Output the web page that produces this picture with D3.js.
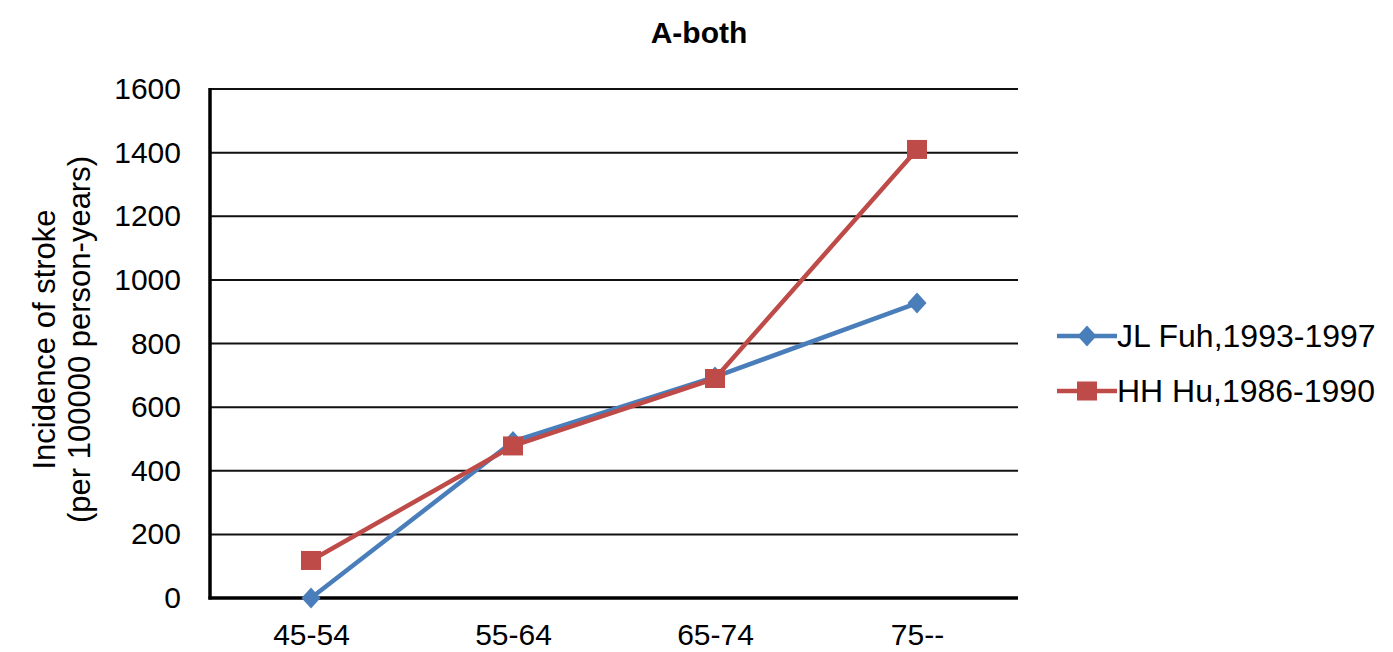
<!DOCTYPE html>
<html>
<head>
<meta charset="utf-8">
<script src="https://cdn.jsdelivr.net/npm/d3@7"></script>
<style>
  html, body { margin: 0; padding: 0; background: #fff; }
  svg { display: block; font-family: "Liberation Sans", Arial, sans-serif; }
</style>
</head>
<body>
<svg id="chart" width="1393" height="652"></svg>
<script>
const categories = ["45-54", "55-64", "65-74", "75--"];
const fuhValues = [0, 492, 695, 927];
const huValues = [118, 478, 690, 1410];
const yTicks = [0, 200, 400, 600, 800, 1000, 1200, 1400, 1600];
const seriesNames = ["JL Fuh,1993-1997", "HH Hu,1986-1990"];
const seriesColors = ["#4A7EBB", "#BE4B48"];
const chartTitle = "A-both";
const yTitleLines = ["Incidence of stroke", "(per 100000 person-years)"];

(function () {
const svg = d3.select("#chart");
const pLeft = 210, pRight = 1018, pTop = 89, pBottom = 598;

const x = d3.scalePoint().domain(categories).range([pLeft, pRight]).padding(0.5);
const y = d3.scaleLinear().domain([0, 1600]).range([pBottom, pTop]);

// gridlines
svg.append("g").selectAll("line")
  .data(yTicks.filter(d => d > 0))
  .join("line")
  .attr("x1", pLeft).attr("x2", pRight)
  .attr("y1", d => y(d)).attr("y2", d => y(d))
  .attr("stroke", "#111").attr("stroke-width", 2);

// y axis
const yAxis = svg.append("g")
  .attr("transform", `translate(${pLeft},0)`)
  .call(d3.axisLeft(y).tickValues(yTicks).tickFormat(d3.format("d")).tickSize(0).tickPadding(29));
yAxis.select(".domain").remove();
yAxis.selectAll("text")
  .attr("font-size", 30).attr("fill", "#000")
  .attr("font-family", "Liberation Sans, Arial, sans-serif");

// x axis
const xAxis = svg.append("g")
  .attr("transform", `translate(0,${pBottom})`)
  .call(d3.axisBottom(x).tickSize(0).tickPadding(26));
xAxis.select(".domain").remove();
xAxis.selectAll("text")
  .attr("font-size", 30).attr("fill", "#000")
  .attr("font-family", "Liberation Sans, Arial, sans-serif");

// axis lines
svg.append("line").attr("x1", pLeft).attr("x2", pLeft).attr("y1", pTop - 1).attr("y2", pBottom + 1.5)
  .attr("stroke", "#000").attr("stroke-width", 3.5);
svg.append("line").attr("x1", pLeft - 1.5).attr("x2", pRight).attr("y1", pBottom).attr("y2", pBottom)
  .attr("stroke", "#000").attr("stroke-width", 3.5);

// title
svg.append("text").attr("x", 699).attr("y", 43).attr("text-anchor", "middle")
  .attr("font-size", 30).attr("font-weight", "bold").attr("fill", "#000")
  .text(chartTitle);

// y title
const yt = svg.append("text")
  .attr("transform", `translate(0,${(pTop + pBottom) / 2 - 4}) rotate(-90)`)
  .attr("text-anchor", "middle").attr("font-size", 31).attr("fill", "#000");
yt.append("tspan").attr("x", 0).attr("y", 55).text(yTitleLines[0]);
yt.append("tspan").attr("x", 0).attr("y", 90).text(yTitleLines[1]);

const line = d3.line().x((d, i) => x(categories[i])).y(d => y(d));
const series = [fuhValues, huValues];

function marker(g, kind, cx, cy, color) {
  if (kind === 0) {
    g.append("path")
      .attr("d", `M${cx},${cy - 10.5} L${cx + 9.5},${cy} L${cx},${cy + 10.5} L${cx - 9.5},${cy} Z`)
      .attr("fill", color);
  } else {
    g.append("rect").attr("x", cx - 10).attr("y", cy - 9.5).attr("width", 20).attr("height", 19)
      .attr("fill", color);
  }
}

series.forEach((vals, si) => {
  const g = svg.append("g");
  g.append("path").datum(vals).attr("d", line)
    .attr("fill", "none").attr("stroke", seriesColors[si]).attr("stroke-width", 4.5)
    .attr("stroke-linejoin", "round");
  vals.forEach((v, i) => marker(g, si, x(categories[i]), y(v), seriesColors[si]));
});

// legend
const legendY = [336, 391];
seriesNames.forEach((name, si) => {
  const g = svg.append("g");
  g.append("line").attr("x1", 1057).attr("x2", 1117).attr("y1", legendY[si]).attr("y2", legendY[si])
    .attr("stroke", seriesColors[si]).attr("stroke-width", 4.5);
  marker(g, si, 1087, legendY[si], seriesColors[si]);
  g.append("text").attr("x", 1117).attr("y", legendY[si] + 11)
    .attr("font-size", 32).attr("fill", "#000").text(name);
});
})();
</script>
</body>
</html>
